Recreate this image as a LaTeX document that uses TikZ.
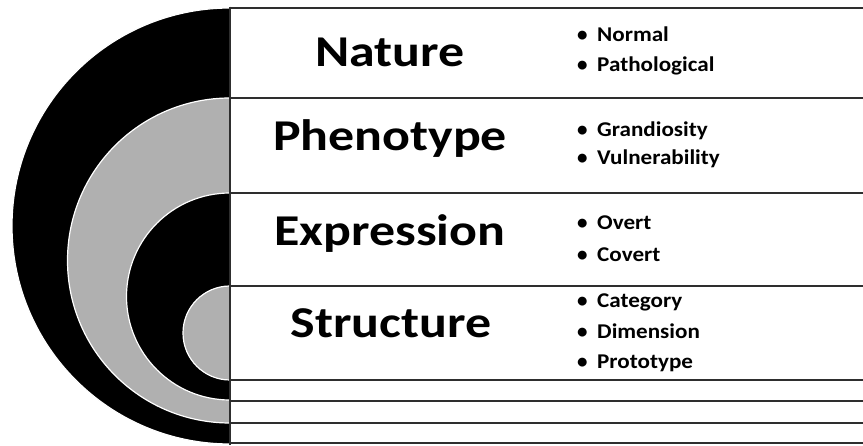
\documentclass[tikz,border=0pt]{standalone}
\usepackage{fontspec}
\setmainfont{Carlito}
\newcommand{\wideT}[1]{\scalebox{1.18}[1]{#1}}
\newcommand{\wideI}[1]{\makebox[20pt][l]{\textbullet}\scalebox{1.1}[1]{#1}}
\begin{document}
\begin{tikzpicture}[x=1pt,y=1pt,
  ttl/.style={font=\bfseries\fontsize{44}{44}\selectfont, inner sep=0pt, anchor=base},
  itm/.style={font=\bfseries\fontsize{21}{21}\selectfont, inner sep=0pt, anchor=base west},
  rule/.style={draw=black!82, line width=2.8pt},
  disk/.style={draw=white, line width=1.2pt}]
\useasboundingbox (0,0) rectangle (863,445);
\fill[white] (0,0) rectangle (863,445);
% nested half disks
\path[disk, fill=black]    (230,437) arc[start angle=90, end angle=270, radius=218pt] -- cycle;
\path[disk, fill=black!31] (230,347) arc[start angle=90, end angle=270, radius=162.5pt] -- cycle;
\path[disk, fill=black]    (230,252) arc[start angle=90, end angle=270, radius=103.5pt] -- cycle;
\path[disk, fill=black!31] (230,159) arc[start angle=90, end angle=270, radius=47pt] -- cycle;
% row rules
\foreach \yy in {437,347,252,159,65,44,22,2}
  \draw[rule] (230,\yy) -- (863,\yy);
\draw[rule] (230,438.4) -- (230,0);
% titles
\node[ttl] (nature) at (390,378) {\wideT{Nature}};
\node[ttl] (pheno) at (390,294) {\wideT{Phenotype}};
\node[ttl] (expr) at (390,199) {\wideT{Expression}};
\node[ttl] (struct) at (391,107) {\wideT{Structure}};
% items
\node[itm] (i1a) at (577,403) {\wideI{Normal}};
\node[itm] (i1b) at (577,373) {\wideI{Pathological}};
\node[itm] (i2a) at (577,308) {\wideI{Grandiosity}};
\node[itm] (i2b) at (577,280) {\wideI{Vulnerability}};
\node[itm] (i3a) at (577,215) {\wideI{Overt}};
\node[itm] (i3b) at (577,183) {\wideI{Covert}};
\node[itm] (i4a) at (577,137) {\wideI{Category}};
\node[itm] (i4b) at (577,106) {\wideI{Dimension}};
\node[itm] (i4c) at (577,77) {\wideI{Prototype}};
\end{tikzpicture}
\end{document}
